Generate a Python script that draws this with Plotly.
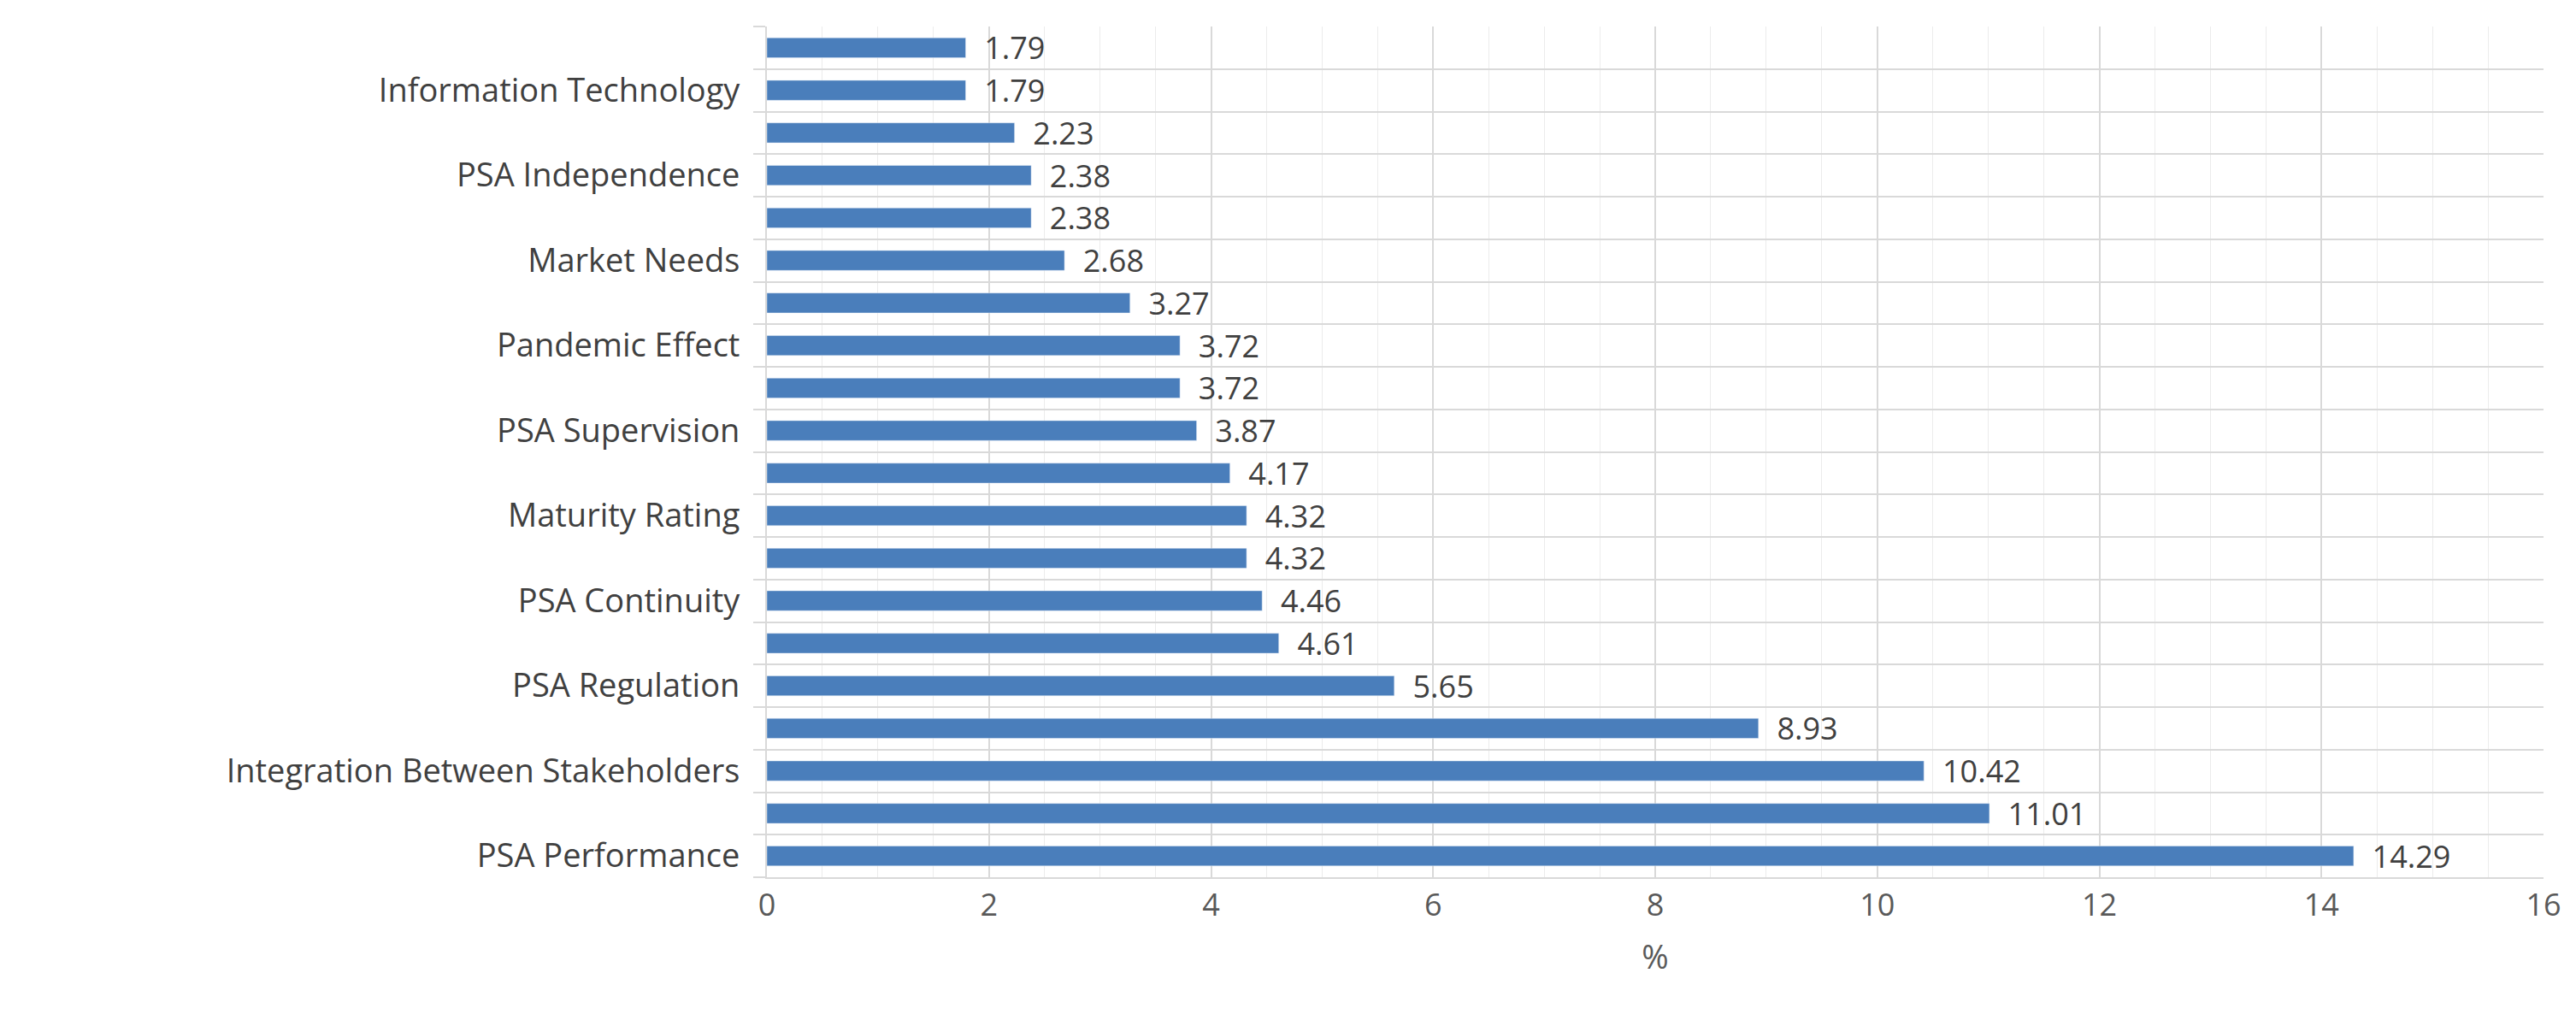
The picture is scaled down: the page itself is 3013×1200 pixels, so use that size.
import plotly.graph_objects as go

labels = ["PSA Performance", "", "Integration Between Stakeholders", "", "PSA Regulation", "",
          "PSA Continuity", "", "Maturity Rating", "", "PSA Supervision", "", "Pandemic Effect", "",
          "Market Needs", "", "PSA Independence", "", "Information Technology", ""]
values = [14.29, 11.01, 10.42, 8.93, 5.65, 4.61, 4.46, 4.32, 4.32, 4.17,
          3.87, 3.72, 3.72, 3.27, 2.68, 2.38, 2.38, 2.23, 1.79, 1.79]
xticks = [0, 2, 4, 6, 8, 10, 12, 14, 16]

pos = list(range(len(values)))
fig = go.Figure(go.Bar(
    x=values, y=pos, orientation="h", width=0.47,
    marker=dict(color="#4a7ebb"),
    text=[f"  {v:.2f}" for v in values], textposition="outside", constraintext="none",
    textfont=dict(size=36, color="#404040", family="Open Sans"),
    cliponaxis=False,
))
fig.update_layout(
    width=3013, height=1200, plot_bgcolor="white", paper_bgcolor="white",
    margin=dict(l=889, r=46, t=23, b=182), showlegend=False,
    font=dict(family="Open Sans", size=36, color="#595959"),
    uniformtext=dict(minsize=36, mode="show"),
)
fig.update_xaxes(range=[0, 16], tickvals=xticks, showgrid=True, gridcolor="#d9d9d9", gridwidth=2,
                 minor=dict(dtick=0.5, showgrid=True, gridcolor="#ececec", gridwidth=1),
                 showline=True, linecolor="#d9d9d9", linewidth=2, zeroline=False,
                 title=dict(text="%", font=dict(size=38, color="#595959"), standoff=25),
                 tickfont=dict(size=36, color="#595959"))
fig.update_yaxes(range=[-0.5, len(values) - 0.5], tickvals=pos, ticktext=labels, showgrid=False,
                 minor=dict(tickvals=[i + 0.5 for i in range(-1, len(values))], showgrid=True,
                            gridcolor="#d9d9d9", gridwidth=2, ticks="outside", ticklen=14,
                            tickcolor="#d9d9d9", tickwidth=2),
                 showline=True, linecolor="#d9d9d9", linewidth=2, zeroline=False,
                 ticks="", tickfont=dict(size=38, color="#404040"), ticklabelstandoff=22)
fig.write_html("out.html")
